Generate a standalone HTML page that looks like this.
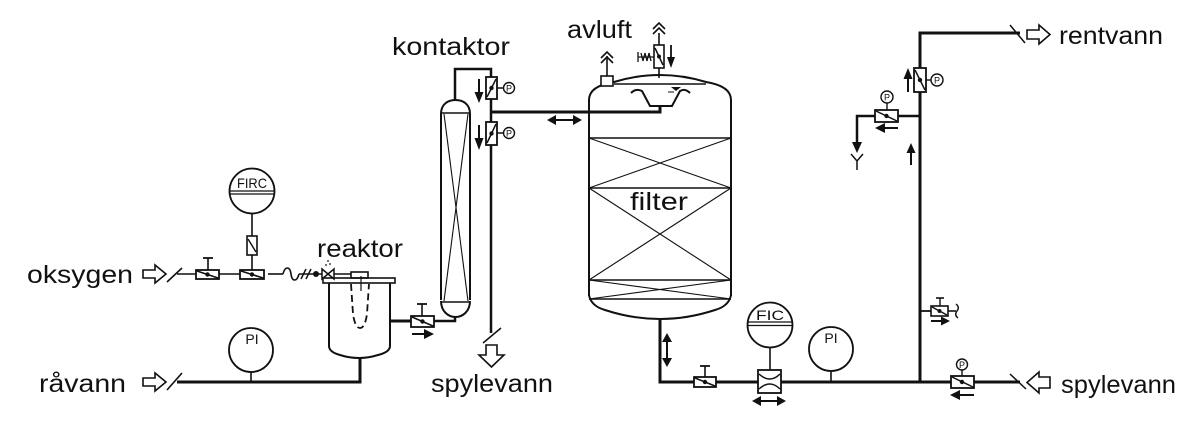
<!DOCTYPE html>
<html>
<head>
<meta charset="utf-8">
<style>
html,body{margin:0;padding:0;background:#fff;}
svg{display:block;}
text{font-family:"Liberation Sans",sans-serif;fill:#111;}
</style>
</head>
<body>
<svg width="1200" height="421" viewBox="0 0 1200 421" xmlns="http://www.w3.org/2000/svg">

<text x="27" y="283" font-size="25" textLength="106" lengthAdjust="spacingAndGlyphs">oksygen</text>
<text x="39" y="392" font-size="25" textLength="87" lengthAdjust="spacingAndGlyphs">råvann</text>
<text x="317" y="257" font-size="25" textLength="86" lengthAdjust="spacingAndGlyphs">reaktor</text>
<text x="392" y="55" font-size="25" textLength="118" lengthAdjust="spacingAndGlyphs">kontaktor</text>
<text x="567" y="38" font-size="25" textLength="65" lengthAdjust="spacingAndGlyphs">avluft</text>
<text x="630" y="210" font-size="25" textLength="58" lengthAdjust="spacingAndGlyphs">filter</text>
<text x="1059" y="44" font-size="25" textLength="104" lengthAdjust="spacingAndGlyphs">rentvann</text>
<text x="431" y="392" font-size="25" textLength="122" lengthAdjust="spacingAndGlyphs">spylevann</text>
<text x="1061" y="393" font-size="25" textLength="115" lengthAdjust="spacingAndGlyphs">spylevann</text>

<text x="252" y="188" font-size="14" text-anchor="middle" textLength="30" lengthAdjust="spacingAndGlyphs">FIRC</text>
<text x="252" y="344" font-size="14" text-anchor="middle">PI</text>
<text x="770" y="320" font-size="14" text-anchor="middle" textLength="28" lengthAdjust="spacingAndGlyphs">FIC</text>
<text x="831" y="343" font-size="14" text-anchor="middle">PI</text>

<text x="509" y="91.5" font-size="9" text-anchor="middle">P</text>
<text x="509" y="136.5" font-size="9" text-anchor="middle">P</text>
<text x="937" y="83.5" font-size="9" text-anchor="middle">P</text>
<text x="887" y="100.5" font-size="9" text-anchor="middle">P</text>
<text x="962" y="368" font-size="9" text-anchor="middle">P</text>

<g fill="none" stroke="#111">

<!-- ===== LEFT: OXYGEN LINE ===== -->
<path d="M143,270 L155,270 L155,265 L166,274 L155,283 L155,278 L143,278 Z" stroke-width="1.6"/>
<line x1="167" y1="282" x2="182" y2="268" stroke-width="1.6"/>
<line x1="177" y1="274" x2="196" y2="274" stroke-width="1.6"/>
<rect x="196" y="270" width="23" height="9" stroke-width="1.8"/>
<line x1="197" y1="271" x2="218" y2="278" stroke-width="1.6"/>
<circle cx="207.5" cy="274.5" r="2.2" fill="#111" stroke="none"/>
<line x1="208" y1="270" x2="208" y2="258" stroke-width="1.6"/>
<line x1="203" y1="258" x2="213" y2="258" stroke-width="1.8"/>
<line x1="219" y1="274" x2="240" y2="274" stroke-width="1.6"/>
<rect x="240" y="270" width="24" height="9" stroke-width="1.8"/>
<line x1="241" y1="271" x2="263" y2="278" stroke-width="1.6"/>
<circle cx="252" cy="274.5" r="2.2" fill="#111" stroke="none"/>
<line x1="252" y1="270" x2="252" y2="255" stroke-width="1.6"/>
<rect x="247" y="236" width="10" height="19" stroke-width="1.6"/>
<line x1="248" y1="239" x2="256" y2="252" stroke-width="1.4"/>
<line x1="252" y1="236" x2="252" y2="214" stroke-width="1.6"/>
<circle cx="252" cy="191" r="22.5" stroke-width="1.8"/>
<line x1="229.5" y1="191" x2="274.5" y2="191" stroke-width="1.3"/>
<line x1="229.5" y1="194" x2="274.5" y2="194" stroke-width="1.3"/>
<line x1="268" y1="274" x2="283" y2="274" stroke-width="1.6"/>
<path d="M283,274 C285,266 290,266 291,274 C292,282 297,282 299,274" stroke-width="1.6"/>
<line x1="299" y1="274" x2="316" y2="274" stroke-width="1.6"/>
<line x1="301" y1="279" x2="306" y2="269" stroke-width="1.5"/>
<line x1="306" y1="279" x2="311" y2="269" stroke-width="1.5"/>
<circle cx="316" cy="274" r="3" fill="#111" stroke="none"/>
<line x1="316" y1="274" x2="351" y2="274" stroke-width="1.6"/>
<path d="M322,269 L322,279 L334,269 L334,279 Z" stroke-width="1.5" fill="#fff"/>
<circle cx="326" cy="265" r="0.9" fill="#111" stroke="none"/>
<circle cx="330" cy="264" r="0.9" fill="#111" stroke="none"/>
<circle cx="328" cy="261" r="0.9" fill="#111" stroke="none"/>

<!-- ===== REACTOR ===== -->
<rect x="323" y="278" width="72" height="5" stroke-width="1.6"/>
<rect x="351" y="272" width="17" height="6" stroke-width="1.6"/>
<path d="M329,283 L329,346 Q329,352 340,355 Q359,361 378,355 Q390,352 390,346 L390,283" stroke-width="2"/>
<path d="M351,284 L353,314 Q355,328 360,328 Q365,328 367,314 L369,284" stroke-width="1.8" stroke-dasharray="7,4"/>
<line x1="361" y1="276" x2="361" y2="291" stroke-width="1.2"/>
<path d="M360,358 L360,382 L177,382" stroke-width="3"/>
<line x1="167" y1="390" x2="182" y2="373" stroke-width="1.6"/>
<path d="M143,378 L155,378 L155,373 L166,382 L155,391 L155,386 L143,386 Z" stroke-width="1.6"/>
<circle cx="251" cy="350" r="22" stroke-width="1.8"/>
<line x1="251" y1="372" x2="251" y2="382" stroke-width="1.6"/>
<line x1="390" y1="321" x2="411" y2="321" stroke-width="3"/>
<rect x="411" y="316" width="23" height="11" stroke-width="1.8"/>
<line x1="412" y1="317" x2="433" y2="326" stroke-width="1.6"/>
<circle cx="422.5" cy="321.5" r="2.2" fill="#111" stroke="none"/>
<line x1="422" y1="316" x2="422" y2="304" stroke-width="1.6"/>
<line x1="417" y1="304" x2="427" y2="304" stroke-width="1.8"/>
<line x1="412" y1="334" x2="426" y2="334" stroke-width="2"/>
<polygon points="424,329 434,334 424,339" fill="#111" stroke="none"/>
<path d="M434,321 L455,321 L455,316" stroke-width="2.5"/>

<!-- ===== CONTACTOR ===== -->
<path d="M441,300 L441,114 C441,104 448,100 455.5,100 C463,100 470,104 470,114 L470,300" stroke-width="2"/>
<line x1="441" y1="113" x2="470" y2="113" stroke-width="1.4"/>
<path d="M441,301 C441,311 448,317 455.5,317 C463,317 470,311 470,301" stroke-width="2"/>
<line x1="441" y1="302" x2="470" y2="302" stroke-width="1.4"/>
<line x1="444" y1="114" x2="468" y2="301" stroke-width="1.1"/>
<line x1="468" y1="114" x2="444" y2="301" stroke-width="1.1"/>
<path d="M455,100 L455,69 L491,69 L491,333" stroke-width="2.5"/>
<rect x="486" y="77" width="11" height="22" stroke-width="1.8" fill="#fff"/>
<line x1="487" y1="97" x2="496" y2="79" stroke-width="1.5"/>
<circle cx="491.5" cy="88" r="2.2" fill="#111" stroke="none"/>
<line x1="497" y1="88" x2="503.5" y2="88" stroke-width="1.5"/>
<circle cx="509" cy="88" r="5.5" stroke-width="1.4"/>
<line x1="479" y1="79" x2="479" y2="94" stroke-width="2"/>
<polygon points="474.5,92 483.5,92 479,103" fill="#111" stroke="none"/>
<rect x="486" y="122" width="11" height="23" stroke-width="1.8" fill="#fff"/>
<line x1="487" y1="143" x2="496" y2="124" stroke-width="1.5"/>
<circle cx="491.5" cy="133.5" r="2.2" fill="#111" stroke="none"/>
<line x1="497" y1="133" x2="503.5" y2="133" stroke-width="1.5"/>
<circle cx="509" cy="133" r="5.5" stroke-width="1.4"/>
<line x1="479" y1="125" x2="479" y2="140" stroke-width="2"/>
<polygon points="474.5,138 483.5,138 479,150" fill="#111" stroke="none"/>
<path d="M491,112 L660,112 L660,106" stroke-width="3"/>
<line x1="553" y1="120" x2="576" y2="120" stroke-width="2"/>
<polygon points="547,120 556,115 556,125" fill="#111" stroke="none"/>
<polygon points="582,120 573,115 573,125" fill="#111" stroke="none"/>
<line x1="483" y1="343" x2="501" y2="328" stroke-width="1.5"/>
<path d="M486,345 L497,345 L497,355 L504,355 L491.5,367 L479,355 L486,355 Z" stroke-width="1.6"/>

<!-- ===== FILTER ===== -->
<path d="M589,296 L589,100 Q589,86 614,82 Q660,68 706,82 Q731,86 731,100 L731,296" stroke-width="2"/>
<line x1="614" y1="84" x2="706" y2="84" stroke-width="1.4"/>
<path d="M589,295 Q591,306 605,310 Q660,328 715,310 Q729,306 731,295" stroke-width="2"/>
<line x1="589" y1="138" x2="731" y2="138" stroke-width="1.6"/>
<line x1="589" y1="188" x2="731" y2="188" stroke-width="1.6"/>
<line x1="589" y1="280" x2="731" y2="280" stroke-width="1.6"/>
<line x1="589" y1="299" x2="731" y2="299" stroke-width="1.6"/>
<line x1="589" y1="138" x2="731" y2="188" stroke-width="1.1"/>
<line x1="731" y1="138" x2="589" y2="188" stroke-width="1.1"/>
<line x1="589" y1="188" x2="731" y2="280" stroke-width="1.1"/>
<line x1="731" y1="188" x2="589" y2="280" stroke-width="1.1"/>
<line x1="589" y1="280" x2="731" y2="299" stroke-width="1.1"/>
<line x1="731" y1="280" x2="589" y2="299" stroke-width="1.1"/>
<path d="M631,93 Q636,88 642,91 L650,106 L672,106 L680,91 Q685,88 690,93" stroke-width="2"/>
<polygon points="671,87 681,87 676,91" fill="#111" stroke="none"/>
<line x1="668" y1="92" x2="674" y2="92" stroke-width="1"/>
<rect x="601" y="76" width="12" height="10" stroke-width="1.6" fill="#fff"/>
<line x1="607" y1="76" x2="607" y2="56" stroke-width="1.6"/>
<path d="M601,58 L607,52 L613,58" stroke-width="1.6"/>
<path d="M601,63 L607,57 L613,63" stroke-width="1.6"/>
<line x1="659" y1="68" x2="659" y2="78" stroke-width="1.6"/>
<rect x="654" y="45" width="10" height="23" stroke-width="1.6"/>
<line x1="655" y1="48" x2="663" y2="65" stroke-width="1.5"/>
<circle cx="659" cy="56.5" r="2" fill="#111" stroke="none"/>
<line x1="659" y1="45" x2="659" y2="33" stroke-width="1.6"/>
<path d="M653,29 L659,23 L665,29" stroke-width="1.6"/>
<path d="M653,34 L659,28 L665,34" stroke-width="1.6"/>
<path d="M638,52 L638,62 M638,57 L654,57 M641,53 L643,61 L645,53 L647,61 L649,53 L651,61" stroke-width="1.3"/>
<line x1="671" y1="45" x2="671" y2="58" stroke-width="1.8"/>
<polygon points="667,57 675,57 671,68" fill="#111" stroke="none"/>

<!-- ===== BOTTOM RIGHT ===== -->
<path d="M660,320 L660,382 L1020,382" stroke-width="3"/>
<line x1="667" y1="340" x2="667" y2="360" stroke-width="2"/>
<polygon points="667,333 662,342 672,342" fill="#111" stroke="none"/>
<polygon points="667,367 662,358 672,358" fill="#111" stroke="none"/>
<rect x="694" y="377" width="22" height="10" stroke-width="1.8" fill="#fff"/>
<line x1="695" y1="378" x2="715" y2="386" stroke-width="1.5"/>
<circle cx="705" cy="382" r="2.2" fill="#111" stroke="none"/>
<line x1="705" y1="377" x2="705" y2="366" stroke-width="1.6"/>
<line x1="700" y1="366" x2="710" y2="366" stroke-width="1.8"/>
<rect x="758" y="370" width="23" height="23" stroke-width="1.8" fill="#fff"/>
<path d="M759,374 Q770,384 780,374" stroke-width="1.5"/>
<path d="M759,389 Q770,379 780,389" stroke-width="1.5"/>
<line x1="770" y1="348" x2="770" y2="370" stroke-width="1.6"/>
<circle cx="770" cy="325" r="22.5" stroke-width="1.8"/>
<line x1="747.5" y1="322" x2="792.5" y2="322" stroke-width="1.3"/>
<line x1="747.5" y1="325.5" x2="792.5" y2="325.5" stroke-width="1.3"/>
<line x1="758" y1="401" x2="780" y2="401" stroke-width="2"/>
<polygon points="752,401 761,396 761,406" fill="#111" stroke="none"/>
<polygon points="786,401 777,396 777,406" fill="#111" stroke="none"/>
<circle cx="831" cy="349" r="22" stroke-width="1.8"/>
<line x1="831" y1="371" x2="831" y2="382" stroke-width="1.6"/>
<rect x="951" y="376" width="23" height="12" stroke-width="1.8" fill="#fff"/>
<line x1="952" y1="377" x2="973" y2="387" stroke-width="1.5"/>
<circle cx="962" cy="382" r="2.2" fill="#111" stroke="none"/>
<line x1="962" y1="376" x2="962" y2="370" stroke-width="1.4"/>
<circle cx="962" cy="364.5" r="5.5" stroke-width="1.4"/>
<line x1="958" y1="395" x2="974" y2="395" stroke-width="2"/>
<polygon points="950,395 960,390 960,400" fill="#111" stroke="none"/>
<line x1="1010" y1="374" x2="1026" y2="389" stroke-width="1.5"/>
<path d="M1050,377 L1039,377 L1039,372 L1027,382.5 L1039,393 L1039,388 L1050,388 Z" stroke-width="1.6"/>

<!-- ===== RIGHT VERTICAL ===== -->
<path d="M920,382 L920,33 L1020,33" stroke-width="3"/>
<line x1="1010" y1="25" x2="1025" y2="43" stroke-width="1.5"/>
<path d="M1027,30 L1039,30 L1039,25 L1050,34.5 L1039,44 L1039,39 L1027,39 Z" stroke-width="1.6"/>
<rect x="914" y="68" width="12" height="24" stroke-width="1.8" fill="#fff"/>
<line x1="915" y1="70" x2="925" y2="90" stroke-width="1.5"/>
<circle cx="920" cy="80" r="2.2" fill="#111" stroke="none"/>
<line x1="926" y1="80" x2="931" y2="80" stroke-width="1.4"/>
<circle cx="937" cy="80" r="6" stroke-width="1.4"/>
<line x1="908" y1="78" x2="908" y2="92" stroke-width="2"/>
<polygon points="903.5,79 912.5,79 908,68" fill="#111" stroke="none"/>
<path d="M920,116 L857,116 L857,145" stroke-width="2.5"/>
<polygon points="852,142 862,142 857,153" fill="#111" stroke="none"/>
<path d="M851,154 L857,161 L863,154 M857,161 L857,170" stroke-width="1.5"/>
<rect x="875" y="110" width="23" height="12" stroke-width="1.8" fill="#fff"/>
<line x1="876" y1="111" x2="897" y2="121" stroke-width="1.5"/>
<circle cx="886.5" cy="116" r="2.2" fill="#111" stroke="none"/>
<line x1="887" y1="110" x2="887" y2="103" stroke-width="1.4"/>
<circle cx="887" cy="97" r="6" stroke-width="1.4"/>
<line x1="884" y1="128" x2="898" y2="128" stroke-width="2"/>
<polygon points="875,128 885,123 885,133" fill="#111" stroke="none"/>
<line x1="911" y1="151" x2="911" y2="165" stroke-width="2"/>
<polygon points="906.5,153 915.5,153 911,143" fill="#111" stroke="none"/>
<line x1="920" y1="311" x2="931" y2="311" stroke-width="1.8"/>
<rect x="931" y="306" width="17" height="10" stroke-width="1.6" fill="#fff"/>
<line x1="932" y1="307" x2="947" y2="315" stroke-width="1.4"/>
<circle cx="939.5" cy="311" r="2" fill="#111" stroke="none"/>
<line x1="940" y1="306" x2="940" y2="298" stroke-width="1.4"/>
<line x1="936" y1="298" x2="944" y2="298" stroke-width="1.6"/>
<line x1="948" y1="311" x2="956" y2="311" stroke-width="1.6"/>
<path d="M956,304 Q960,307 957,311 Q954,315 958,318" stroke-width="1.4"/>
<line x1="931" y1="321" x2="943" y2="321" stroke-width="2"/>
<polygon points="950,321 941,316.5 941,325.5" fill="#111" stroke="none"/>
</g>
</svg>
</body>
</html>
